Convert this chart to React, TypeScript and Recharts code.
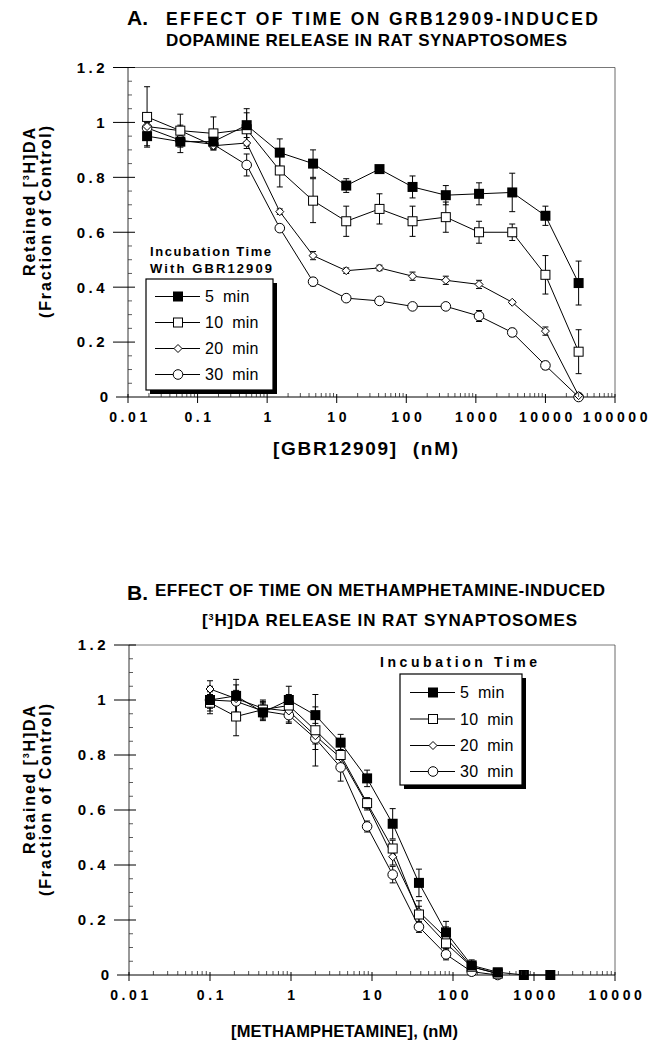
import React from 'react';
import { LineChart, Line, XAxis, YAxis, ErrorBar } from 'recharts';

const FONT = '"Liberation Sans", Arial, Helvetica, sans-serif';

// ---------- Panel A data (GBR12909) ----------
const gbrConc = [0.0188, 0.0565, 0.169, 0.508, 1.52, 4.57, 13.7, 41.2, 123, 370, 1111, 3333, 10000, 30000];
const gbr5 = [0.95, 0.93, 0.93, 0.99, 0.89, 0.85, 0.77, 0.83, 0.765, 0.735, 0.74, 0.745, 0.66, 0.415];
const gbr5Err = [0.035, 0.04, 0.02, 0.06, 0.05, 0.05, 0.025, 0.01, 0.04, 0.035, 0.04, 0.07, 0.035, 0.08];
const gbr10 = [1.02, 0.97, 0.96, 0.975, 0.825, 0.715, 0.64, 0.685, 0.64, 0.655, 0.6, 0.6, 0.445, 0.165];
const gbr10Err = [0.11, 0.06, 0.06, 0.06, 0.06, 0.08, 0.055, 0.055, 0.055, 0.055, 0.04, 0.03, 0.07, 0.08];
const gbr20 = [0.985, 0.97, 0.915, 0.925, 0.675, 0.515, 0.46, 0.47, 0.44, 0.425, 0.41, 0.345, 0.24, 0.005];
const gbr20Err = [0.02, 0.02, 0.01, 0.02, 0.01, 0.015, 0.01, 0.01, 0.015, 0.015, 0.015, 0.005, 0.015, 0.005];
const gbr30 = [0.98, 0.935, 0.92, 0.845, 0.615, 0.42, 0.36, 0.35, 0.33, 0.33, 0.295, 0.235, 0.115, 0.0];
const gbr30Err = [0.02, 0.02, 0.02, 0.04, 0.01, 0.015, 0.01, 0.01, 0.01, 0.01, 0.02, 0.015, 0.015, 0.0];

// ---------- Panel B data (methamphetamine) ----------
const methConc = [0.1, 0.21, 0.45, 0.94, 2, 4.1, 8.7, 18, 38, 82, 170, 357, 750, 1590];
const meth5 = [1.0, 1.015, 0.955, 1.0, 0.945, 0.845, 0.715, 0.55, 0.335, 0.155, 0.035, 0.01, 0.0, 0.0];
const meth5Err = [0.05, 0.06, 0.03, 0.05, 0.03, 0.03, 0.03, 0.055, 0.05, 0.04, 0.02, 0.01, 0, 0];
const meth10 = [0.99, 0.94, 0.965, 0.98, 0.89, 0.8, 0.625, 0.46, 0.22, 0.115, 0.03, 0.005];
const meth10Err = [0.03, 0.07, 0.03, 0.04, 0.13, 0.04, 0.02, 0.03, 0.03, 0.05, 0.015, 0.005];
const meth20 = [1.04, 1.005, 0.97, 0.96, 0.87, 0.79, 0.62, 0.43, 0.23, 0.135, 0.03, 0.005];
const meth20Err = [0.03, 0.05, 0.03, 0.04, 0.03, 0.03, 0.02, 0.03, 0.04, 0.04, 0.015, 0.005];
const meth30 = [1.0, 0.995, 0.96, 0.945, 0.86, 0.755, 0.54, 0.365, 0.175, 0.075, 0.012, 0.0];
const meth30Err = [0.03, 0.04, 0.03, 0.03, 0.04, 0.05, 0.02, 0.03, 0.02, 0.02, 0.01, 0.0];

// ---------- ticks / labels ----------
const xMajorA = [0.01, 0.1, 1, 10, 100, 1000, 10000, 100000];
const xLabelsA = ['0.01', '0.1', '1', '10', '100', '1000', '10000', '100000'];
const xMajorB = [0.01, 0.1, 1, 10, 100, 1000, 10000];
const xLabelsB = ['0.01', '0.1', '1', '10', '100', '1000', '10000'];
const yMajor = [0, 0.2, 0.4, 0.6, 0.8, 1, 1.2];
const yLabels = ['0', '0.2', '0.4', '0.6', '0.8', '1', '1.2'];
const yMinor = [0.05, 0.1, 0.15, 0.25, 0.3, 0.35, 0.45, 0.5, 0.55, 0.65, 0.7, 0.75, 0.85, 0.9, 0.95, 1.05, 1.1, 1.15];
const seriesNames = ['5 min', '10 min', '20 min', '30 min'];
const markerKinds = ['filledSquare', 'openSquare', 'diamond', 'circle'];

const minorOf = (majors: number[]) =>
  majors.slice(0, -1).flatMap((d) => [2, 3, 4, 5, 6, 7, 8, 9].map((m) => +(m * d).toPrecision(6)));

const rows = (xs: number[], ys: number[], es: number[]) => ys.map((y, i) => ({ x: xs[i], y, e: es[i] }));

const seriesA = [rows(gbrConc, gbr5, gbr5Err), rows(gbrConc, gbr10, gbr10Err), rows(gbrConc, gbr20, gbr20Err), rows(gbrConc, gbr30, gbr30Err)];
const seriesB = [rows(methConc, meth5, meth5Err), rows(methConc, meth10, meth10Err), rows(methConc, meth20, meth20Err), rows(methConc, meth30, meth30Err)];

function Marker({ kind, cx, cy }: { kind: string; cx: number; cy: number }) {
  if (kind === 'filledSquare') return <rect x={cx - 5} y={cy - 5} width={10} height={10} fill="#000" />;
  if (kind === 'openSquare') return <rect x={cx - 4.5} y={cy - 4.5} width={9} height={9} fill="#fff" stroke="#000" strokeWidth={1} />;
  if (kind === 'diamond')
    return <polygon points={`${cx},${cy - 4} ${cx + 4},${cy} ${cx},${cy + 4} ${cx - 4},${cy}`} fill="#fff" stroke="#000" strokeWidth={1} />;
  return <circle cx={cx} cy={cy} r={4.8} fill="#fff" stroke="#000" strokeWidth={1} />;
}

const isMajor = (majors: number[], v: number) => majors.findIndex((m) => Math.abs(m - v) / Math.max(m, 1e-9) < 1e-6);

const bottomTick = (majors: number[], labels: string[]) => (p: any) => {
  const { x, y, payload } = p;
  const i = isMajor(majors, payload.value);
  if (i < 0) return <line x1={x} x2={x} y1={y - 4} y2={y} stroke="#222" strokeWidth={0.8} />;
  return (
    <g>
      <line x1={x} x2={x} y1={y - 3} y2={y + 6} stroke="#000" strokeWidth={1} />
      <text x={x + 2} y={y + 25} textAnchor="middle" fontFamily={FONT} fontWeight="bold" fontSize={14} letterSpacing={3.6} fill="#000">
        {labels[i]}
      </text>
    </g>
  );
};

const topTick = (majors: number[]) => (p: any) => {
  const { x, y, payload } = p;
  const i = isMajor(majors, payload.value);
  if (i < 0) return <line x1={x} x2={x} y1={y} y2={y + 4} stroke="#444" strokeWidth={0.8} />;
  return <line x1={x} x2={x} y1={y - 6} y2={y + 7} stroke="#222" strokeWidth={1} />;
};

const leftTick = (p: any) => {
  const { x, y, payload } = p;
  const i = isMajor(yMajor, payload.value);
  if (payload.value === 0) {
    return (
      <g>
        <line x1={x - 12} x2={x} y1={y} y2={y} stroke="#000" strokeWidth={1} />
        <text x={x - 20} y={y} dy="0.36em" textAnchor="end" fontFamily={FONT} fontWeight="bold" fontSize={15} fill="#000">0</text>
      </g>
    );
  }
  if (i < 0) return <line x1={x} x2={x + 4} y1={y} y2={y} stroke="#333" strokeWidth={0.8} />;
  return (
    <g>
      <line x1={x - 15} x2={x + 7} y1={y} y2={y} stroke="#000" strokeWidth={1} />
      <text x={x - 20} y={y} dy="0.36em" textAnchor="end" fontFamily={FONT} fontWeight="bold" fontSize={15} letterSpacing={3.5} fill="#000">
        {yLabels[i]}
      </text>
    </g>
  );
};

const rightTick = (p: any) => {
  const { x, y, payload } = p;
  const i = isMajor(yMajor, payload.value);
  if (payload.value === 0 || payload.value === 1.2) return <g />;
  if (i < 0) return <line x1={x - 4} x2={x} y1={y} y2={y} stroke="#333" strokeWidth={0.8} />;
  return <line x1={x - 8} x2={x + 8} y1={y} y2={y} stroke="#222" strokeWidth={1} />;
};

function Panel({ series, majors, labels, height, top, margin }: any) {
  const ticksX = [...majors, ...minorOf(majors)].sort((a, b) => a - b);
  const ticksY = [...yMajor, ...yMinor].sort((a, b) => a - b);
  const order = [3, 2, 1, 0];
  return (
    <div style={{ position: 'absolute', left: 0, top, width: 650, height }}>
      <LineChart width={650} height={height} margin={margin} style={{ overflow: 'visible' }}>
        <XAxis
          xAxisId="b" type="number" dataKey="x" scale="log" domain={[majors[0], majors[majors.length - 1]]}
          ticks={ticksX} interval={0} tickSize={0} tickMargin={0} height={40}
          tick={bottomTick(majors, labels)} axisLine={{ stroke: '#000', strokeWidth: 1 }}
        />
        <XAxis
          xAxisId="t" orientation="top" type="number" dataKey="x" scale="log" domain={[majors[0], majors[majors.length - 1]]}
          ticks={ticksX} interval={0} tickSize={0} tickMargin={0} height={1}
          tick={topTick(majors)} axisLine={{ stroke: '#555', strokeWidth: 0.8 }}
        />
        <YAxis
          yAxisId="l" type="number" domain={[0, 1.2]} ticks={ticksY} interval={0} tickSize={0} tickMargin={0} width={60}
          tick={leftTick} axisLine={{ stroke: '#333', strokeWidth: 1 }}
        />
        <YAxis
          yAxisId="r" orientation="right" type="number" domain={[0, 1.2]} ticks={ticksY} interval={0} tickSize={0} tickMargin={0} width={10}
          tick={rightTick} axisLine={{ stroke: '#444', strokeWidth: 0.8 }}
        />
        {order.map((s) => (
          <Line
            key={seriesNames[s]}
            name={seriesNames[s]}
            xAxisId="b"
            yAxisId="l"
            data={series[s]}
            dataKey="y"
            type="linear"
            stroke="#000"
            strokeWidth={1}
            isAnimationActive={false}
            activeDot={false}
            dot={(p: any) => <Marker key={`${s}-${p.index}`} kind={markerKinds[s]} cx={p.cx} cy={p.cy} />}
          >
            <ErrorBar dataKey="e" direction="y" width={3} stroke="#000" strokeWidth={1} isAnimationActive={false} />
          </Line>
        ))}
      </LineChart>
    </div>
  );
}

function LegendBox({ x, y, w, h, rowsY, lineX1, lineX2, markX, textX }: any) {
  return (
    <g>
      <rect x={x + 4} y={y + 4} width={w} height={h} fill="#000" />
      <rect x={x} y={y} width={w} height={h} fill="#fff" stroke="#000" strokeWidth={1.2} />
      {seriesNames.map((n, i) => (
        <g key={n}>
          <line x1={lineX1} x2={lineX2} y1={rowsY[i] - 5.5} y2={rowsY[i] - 5.5} stroke="#000" strokeWidth={1} />
          <Marker kind={markerKinds[i]} cx={markX} cy={rowsY[i] - 5.5} />
          <text x={textX} y={rowsY[i]} fontFamily={FONT} fontSize={16} letterSpacing={0.3} wordSpacing={4} fill="#000">{n}</text>
        </g>
      ))}
    </g>
  );
}

function Overlay() {
  const bold = { fontFamily: FONT, fontWeight: 'bold' as const, fill: '#000' };
  return (
    <svg width={650} height={1042} style={{ position: 'absolute', left: 0, top: 0, pointerEvents: 'none' }}>
      {/* Panel A titles */}
      <text x={127} y={25} fontSize={21} {...bold}>A.</text>
      <text x={166} y={25} fontSize={17.5} textLength={432} lengthAdjust="spacing" {...bold}>EFFECT OF TIME ON GRB12909-INDUCED</text>
      <text x={166} y={46} fontSize={17} textLength={401} lengthAdjust="spacing" {...bold}>DOPAMINE RELEASE IN RAT SYNAPTOSOMES</text>
      {/* Panel A axis labels */}
      <text transform="translate(35,202) rotate(-90)" textAnchor="middle" fontSize={16} textLength={148} lengthAdjust="spacing" {...bold}>
        Retained [<tspan dy={-6} fontSize={9}>3</tspan><tspan dy={6}>H]DA</tspan>
      </text>
      <text transform="translate(51,222) rotate(-90)" textAnchor="middle" fontSize={16} textLength={192} lengthAdjust="spacing" {...bold}>(Fraction of Control)</text>
      <text x={273} y={455} fontSize={19} textLength={185} lengthAdjust="spacing" wordSpacing={8} {...bold}>[GBR12909] (nM)</text>
      {/* Legend A */}
      <text x={150} y={256} fontSize={13} textLength={121} lengthAdjust="spacing" {...bold}>Incubation Time</text>
      <text x={150} y={273} fontSize={13} textLength={122} lengthAdjust="spacing" {...bold}>With GBR12909</text>
      <LegendBox x={146} y={279} w={127} h={111} rowsY={[302, 328, 354, 380]} lineX1={155} lineX2={200} markX={178} textX={205} />

      {/* Panel B titles */}
      <text x={127} y={600} fontSize={21} {...bold}>B.</text>
      <text x={155} y={596} fontSize={17} textLength={450} lengthAdjust="spacing" {...bold}>EFFECT OF TIME ON METHAMPHETAMINE-INDUCED</text>
      <text x={202} y={626} fontSize={17} textLength={375} lengthAdjust="spacing" {...bold}>
        [<tspan dy={-6} fontSize={9}>3</tspan><tspan dy={6}>H]DA RELEASE IN RAT SYNAPTOSOMES</tspan>
      </text>
      <text transform="translate(35,780) rotate(-90)" textAnchor="middle" fontSize={16} textLength={148} lengthAdjust="spacing" {...bold}>
        Retained [<tspan dy={-6} fontSize={9}>3</tspan><tspan dy={6}>H]DA</tspan>
      </text>
      <text transform="translate(51,800) rotate(-90)" textAnchor="middle" fontSize={16} textLength={192} lengthAdjust="spacing" {...bold}>(Fraction of Control)</text>
      <text x={231} y={1037} fontSize={16.5} textLength={227} lengthAdjust="spacing" {...bold}>[METHAMPHETAMINE], (nM)</text>
      {/* Legend B */}
      <text x={380} y={667} fontSize={14} textLength={157} lengthAdjust="spacing" {...bold}>Incubation Time</text>
      <LegendBox x={400} y={674} w={122} h={111} rowsY={[698, 724.5, 751, 777]} lineX1={410} lineX2={455} markX={433} textX={460} />
    </svg>
  );
}

export default function App() {
  return (
    <div style={{ position: 'absolute', left: 0, top: 0, width: 650, height: 1042, background: '#fff', overflow: 'hidden' }}>
      <Panel series={seriesA} majors={xMajorA} labels={xLabelsA} height={460} top={0}
        margin={{ top: 66.5, right: 25, bottom: 23, left: 68 }} />
      <Panel series={seriesB} majors={xMajorB} labels={xLabelsB} height={502} top={540}
        margin={{ top: 104, right: 25, bottom: 27, left: 69 }} />
      <Overlay />
    </div>
  );
}
